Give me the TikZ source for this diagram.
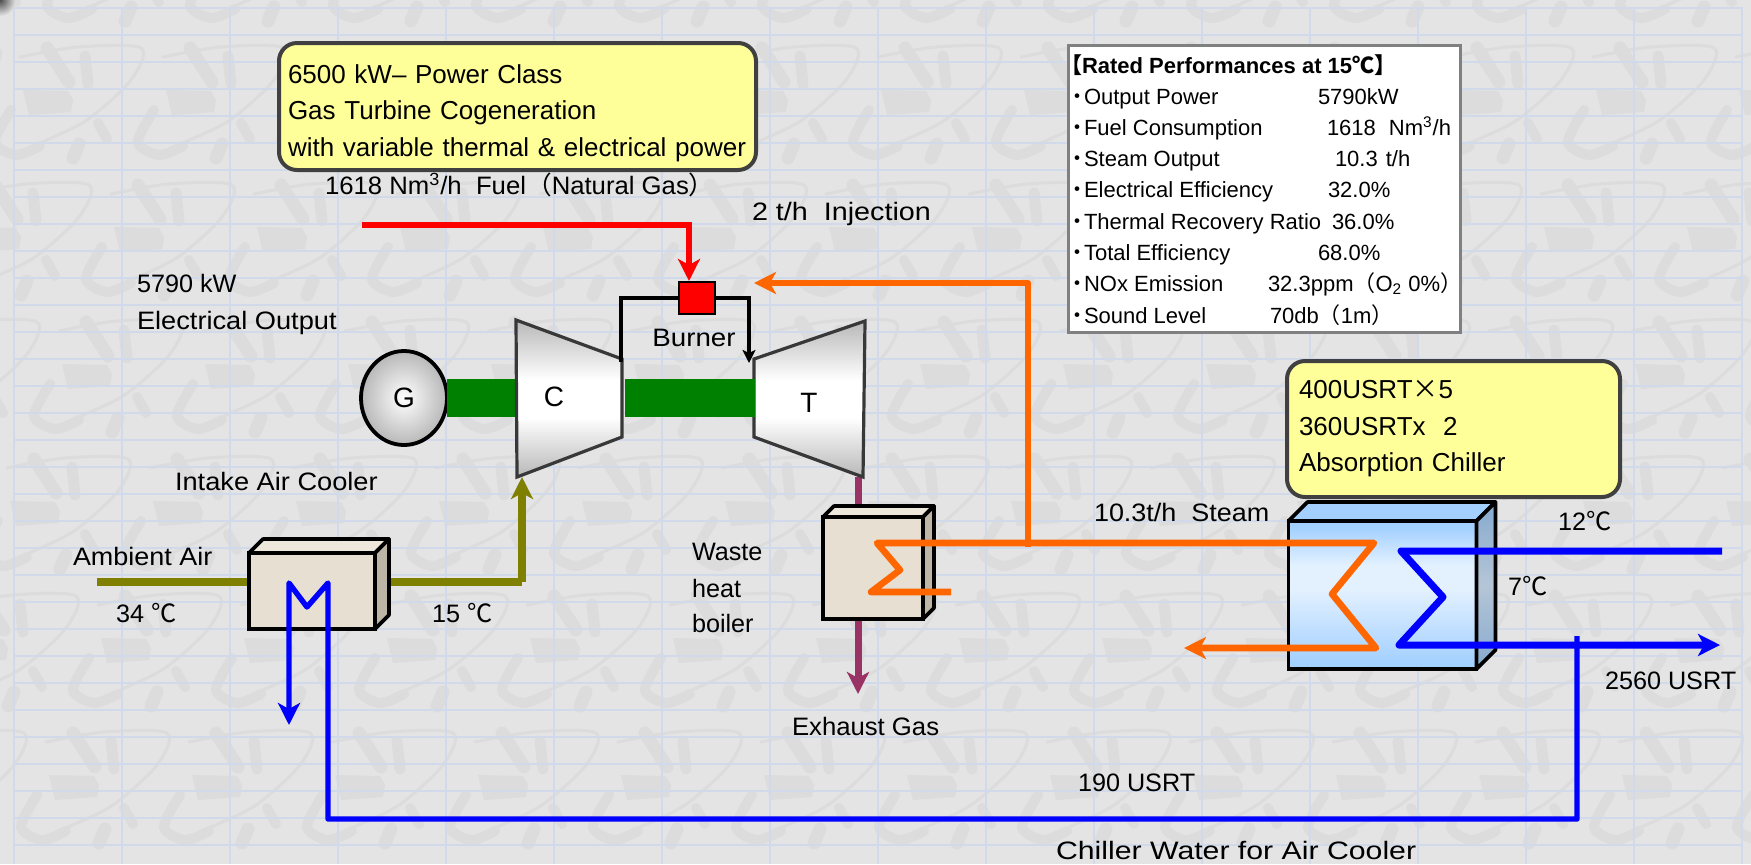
\documentclass[tikz,border=0pt]{standalone}
\usepackage{fontspec}
\setmainfont{Liberation Sans}
\newfontfamily\cjk{Noto Sans CJK JP}
\usetikzlibrary{arrows.meta,shapes.geometric}
\definecolor{wallgrey}{HTML}{E4E4E4}
\definecolor{markgrey}{HTML}{DCDCDC}
\definecolor{gridblue}{HTML}{D1DAEA}
\definecolor{noteyellow}{HTML}{FFFF99}
\definecolor{shaftgreen}{HTML}{008000}
\definecolor{airolive}{HTML}{808000}
\definecolor{gaspurple}{HTML}{993366}
\definecolor{steamorange}{HTML}{FF6600}
\definecolor{stonefront}{HTML}{E6DFD2}
\definecolor{stonetop}{HTML}{EEE8DC}
\definecolor{stoneside}{HTML}{BDB5A6}
\definecolor{icetop}{HTML}{A3D0FF}
\definecolor{icemid}{HTML}{E3F1FF}
\definecolor{sidedark}{HTML}{86AACF}
\definecolor{sidelight}{HTML}{B5C5D6}
\pgfdeclareverticalshading{machineface}{100bp}{color(0bp)=(black!28); color(25bp)=(black!28);
  color(44bp)=(white); color(56bp)=(white); color(75bp)=(black!28); color(100bp)=(black!28)}
\pgfdeclareverticalshading{iceface}{100bp}{color(0bp)=(icetop); color(27bp)=(icetop);
  color(52bp)=(icemid); color(60bp)=(icemid); color(73bp)=(icetop); color(100bp)=(icetop)}
\pgfdeclareverticalshading{iceside}{100bp}{color(0bp)=(sidedark); color(25bp)=(sidedark);
  color(50bp)=(sidelight); color(75bp)=(sidedark); color(100bp)=(sidedark)}

\begin{document}
\begin{tikzpicture}[
  x=0.5pt, y=-0.5pt,
  every node/.style={outer sep=0pt},
  wing/.style={markgrey, line cap=round},
  wallmark/.pic={
    \fill[markgrey] (0,0) -- (45,1) -- (50,10) -- (48,22) -- (6,25) -- cycle;
    \draw[wing, line width=6.5pt] (24,-42) -- (46,-8);
    \draw[wing, line width=5.5pt] (62,-34) -- (65,-6);
    \draw[wing, line width=5pt] (75,33) -- (84,49);
    \draw[wing, line width=6.5pt] (56,54) -- (50,68);
    \draw[wing, line width=1.5pt] plot[smooth] coordinates {(-3,-33) (55,-43) (118,-42) (108,-10) (64,30) (17,53) (-7,65)};
    \draw[wing, line width=5pt] plot[smooth] coordinates {(17,56) (-7,65) (-28,52) (-12,20)};
  },
  lbl/.style={font=\fontsize{12.6}{15}\selectfont, inner sep=0pt, anchor=base west},
  letter/.style={font=\fontsize{14}{16}\selectfont, inner sep=0pt, anchor=center},
  row/.style={font=\fontsize{11}{13}\selectfont, inner sep=0pt, anchor=base west},
  note/.style={draw=black!75, line width=2pt, rounded corners=9pt, fill=noteyellow, align=left,
               font=\fontsize{13}{18.2}\selectfont, inner ysep=0pt},
  stone/.style={draw=black, line width=1.8pt, fill=stonefront, inner sep=0pt},
  facetop/.style={draw=black, line width=1.8pt, fill=stonetop, line join=round},
  faceside/.style={draw=black, line width=1.8pt, fill=stoneside, line join=round},
  machine/.style={draw=black!78, line width=1.6pt, shading=machineface, line join=miter},
  head/.style={-{Stealth[length=11pt, width=11pt, inset=3pt]}},
  shaft/.style={shaftgreen, line width=19pt},
  air/.style={airolive, line width=4pt, line join=round},
  exhaust/.style={gaspurple, line width=3.5pt},
  fuel/.style={red, line width=3.2pt},
  gas/.style={black, line width=1.7pt, -{Stealth[length=6.5pt, width=6.5pt, inset=1.5pt]}},
  steam/.style={steamorange, line width=3.3pt, line join=round},
  water/.style={blue, line width=3.5pt, line join=round},
  cooling/.style={blue, line width=2.7pt, line join=round},
]
\useasboundingbox (0,0) rectangle (1751,864);

%% ---- Wallpaper ----
\begin{scope}
  \clip (0,0) rectangle (1751,864);
  \fill[wallgrey] (0,0) rectangle (1751,864);
  \foreach \r in {0,...,6}
    \foreach \c in {-1,...,15}
      \pic at ({75+143*\c-52*\r},{-47+137*\r}) {wallmark};
  \foreach \gy in {0,...,31}
    \draw[gridblue, line width=1pt] (14,{8+27*\gy}) -- (1743,{8+27*\gy});
  \foreach \gx in {0,...,16}
    \draw[gridblue, line width=1pt] ({14+108*\gx},8) -- ({14+108*\gx},864);
  \shade[inner color=black!70, outer color=wallgrey] (0,0) circle (16);
\end{scope}

%% ---- Titles and panel ----
\node[note, text width=229.5pt, inner xsep=4.5pt, minimum height=63.5pt] (title) at (517.5,106.5)
  {\rule{0pt}{16pt}6500 kW– Power Class\\Gas Turbine Cogeneration\\\mbox{with variable thermal \& electrical power}};
\node[note, text width=154.5pt, inner xsep=6pt, minimum height=68pt] (chillnote) at (1453.5,429)
  {400USRT{\cjk ×}5\\360USRTx\ \ 2\\Absorption Chiller};

\node[draw=black!50, line width=1.5pt, fill=white, minimum width=196pt, minimum height=143.5pt] (perf) at (1264,188.5) {};
\node[row, font=\fontsize{11}{13}\selectfont\bfseries] (perfhead) at (1060,73) {{\cjk\bfseries 【}Rated Performances at 15{\cjk\bfseries ℃】}};
\foreach \n/\ry/\lab/\vx/\val in {
  a/104/Output Power/1318/5790kW,
  b/135/Fuel Consumption/1327/{1618\hspace{6.5pt}Nm\textsuperscript{3}{/}h},
  c/166/Steam Output/1335/{10.3\hspace{4pt}t{/}h},
  d/197/Electrical Efficiency/1328/32.0\%,
  e/229/Thermal Recovery Ratio/1332/36.0\%,
  f/260/Total Efficiency/1318/68.0\%,
  g/291/NOx Emission/1268/{32.3ppm{\cjk （}O\textsubscript{2} 0\%{\cjk ）}},
  h/323/Sound Level/1270/{70db{\cjk （}1m{\cjk ）}}}{
  \node[row] (lab\n) at (1084,\ry) {\llap{\cjk ・\kern-2pt}\lab};
  \node[row] (val\n) at (\vx,\ry) {\val};
}

%% ---- Connectors behind the machines ----
\coordinate (airin) at (97,582);
\coordinate (airout) at (522,582);
\coordinate (airtip) at (522,477);
\coordinate (gasout) at (858,477);
\coordinate (gastip) at (858,694);
\draw[air] (airin) -- (airout);
\draw[air, head] (airout) -- (airtip);
\draw[exhaust, head] (gasout) -- (gastip);

%% ---- Generator, compressor, turbine ----
\coordinate (compw) at (518,398);
\coordinate (compe) at (625,398);
\coordinate (turbw) at (755,398);
\node[ellipse, minimum width=43pt, minimum height=47pt, inner sep=0pt, draw=black, line width=1.9pt,
      inner color=white, outer color=black!28, font=\fontsize{14}{16}\selectfont] (gen) at (404,398) {G};
\draw[shaft] (gen.east) -- (compw);
\coordinate (c1) at (516,320);
\coordinate (c2) at (622,359);
\coordinate (c3) at (622,437);
\coordinate (c4) at (517,477);
\coordinate (t1) at (754,359);
\coordinate (t2) at (865,321);
\coordinate (t3) at (863,477);
\coordinate (t4) at (754,437);
\path[machine] (c1) -- (c2) -- (c3) -- (c4) -- cycle;
\path[machine] (t1) -- (t2) -- (t3) -- (t4) -- cycle;
\draw[shaft] (compe) -- (turbw);
\node[letter] (clabel) at (554,397) {C};
\node[letter] (tlabel) at (809,403) {T};

%% ---- Burner ----
\node[draw=black, line width=1.2pt, fill=red, minimum width=18pt, minimum height=16pt, inner sep=0pt] (burner) at (697,298) {};
\coordinate (gasin) at (621,362);
\coordinate (gastipt) at (749,363);
\coordinate (fuelin) at (362,225);
\coordinate (fueltip) at (689,281);
\draw[gas, -] (gasin) |- (burner.west);
\draw[gas] (burner.east) -| (gastipt);
\draw[fuel, head] (fuelin) -| (fueltip);

%% ---- Heat exchangers ----
\node[stone, minimum width=63pt, minimum height=38pt] (cooler) at (312,591) {};
\draw[facetop] (cooler.north west) -- ++(14,-14) -- ++(126,0) -- (cooler.north east) -- cycle;
\draw[faceside] (cooler.north east) -- ++(14,-14) -- ++(0,76) -- (cooler.south east) -- cycle;

\node[stone, minimum width=50pt, minimum height=51pt] (boiler) at (873,568) {};
\draw[facetop] (boiler.north west) -- ++(11,-11) -- ++(100,0) -- (boiler.north east) -- cycle;
\draw[faceside] (boiler.north east) -- ++(11,-11) -- ++(0,102) -- (boiler.south east) -- cycle;

\node[stone, shading=iceface, minimum width=94pt, minimum height=74pt] (chiller) at (1382.5,595) {};
\draw[facetop, fill=icetop] (chiller.north west) -- ++(19,-19) -- ++(188,0) -- (chiller.north east) -- cycle;
\draw[faceside, shading=iceside] (chiller.north east) -- ++(19,-19) -- ++(0,148) -- (chiller.south east) -- cycle;

%% ---- Steam circuit ----
\coordinate (feedin) at (951,592);
\coordinate (bc1) at (871,592);
\coordinate (bc2) at (900,570);
\coordinate (bc3) at (877,543);
\coordinate (steamtee) at (1028,547);
\coordinate (injtip) at (754,283);
\coordinate (ac1) at (1374,543);
\coordinate (ac2) at (1332,594);
\coordinate (ac3) at (1376,648);
\coordinate (condtip) at (1184,648);
\draw[steam, head] (steamtee) |- (injtip);
\draw[steam, head] (feedin) -- (bc1) -- (bc2) -- (bc3) -- (ac1) -- (ac2) -- (ac3) -- (condtip);

%% ---- Chilled water ----
\coordinate (chwin) at (1722,551);
\coordinate (wc1) at (1401,551);
\coordinate (wc2) at (1443,597);
\coordinate (wc3) at (1399,645);
\coordinate (chwtip) at (1720,645);
\coordinate (tapoff) at (1577,636);
\coordinate (tapcorner) at (1577,819);
\coordinate (tapend) at (328,819);
\coordinate (cc1) at (328,583);
\coordinate (cc2) at (307,607);
\coordinate (cc3) at (289,583);
\coordinate (cooltip) at (289,725);
\draw[water, head] (chwin) -- (wc1) -- (wc2) -- (wc3) -- (chwtip);
\draw[cooling, head] (tapoff) -- (tapcorner) -- (tapend) -- (cc1) -- (cc2) -- (cc3) -- (cooltip);

%% ---- Labels ----
\node[lbl] (fuellabel) at (325,194) {\scalebox{1.02}[1]{1618 Nm\textsuperscript{3}/h\ \ Fuel{\cjk （}Natural Gas{\cjk ）}}};
\node[lbl] (injlabel) at (752,220) {\scalebox{1.14}[1]{2 t/h\ \ Injection}};
\node[lbl] (kwlabel) at (137,292) {5790 kW};
\node[lbl] (outlabel) at (137,329) {\scalebox{1.08}[1]{Electrical Output}};
\node[lbl, anchor=center] (burnerlabel) at (694,338) {\scalebox{1.1}[1]{Burner}};
\node[lbl] (coolerlabel) at (175,490) {\scalebox{1.08}[1]{Intake Air Cooler}};
\node[lbl] (amblabel) at (73,565) {\scalebox{1.07}[1]{Ambient Air}};
\node[lbl] (hotlabel) at (116,622) {34 {\cjk ℃}};
\node[lbl] (coldlabel) at (432,622) {15 {\cjk ℃}};
\node[lbl] (boiler1) at (692,560) {Waste};
\node[lbl] (boiler2) at (692,597) {heat};
\node[lbl] (boiler3) at (692,632) {boiler};
\node[lbl] (gaslabel) at (792,735) {\scalebox{1.02}[1]{Exhaust Gas}};
\node[lbl] (steamlabel) at (1094,521) {\scalebox{1.07}[1]{10.3t/h\ \ Steam}};
\node[lbl] (t12label) at (1558,530) {12{\cjk ℃}};
\node[lbl] (t7label) at (1508,595) {7{\cjk ℃}};
\node[lbl] (usrtlabel) at (1605,689) {2560 USRT};
\node[lbl] (tapusrt) at (1078,791) {190 USRT};
\node[lbl] (taplabel) at (1056,859) {\scalebox{1.2}[1]{Chiller Water for Air Cooler}};
\end{tikzpicture}
\end{document}
